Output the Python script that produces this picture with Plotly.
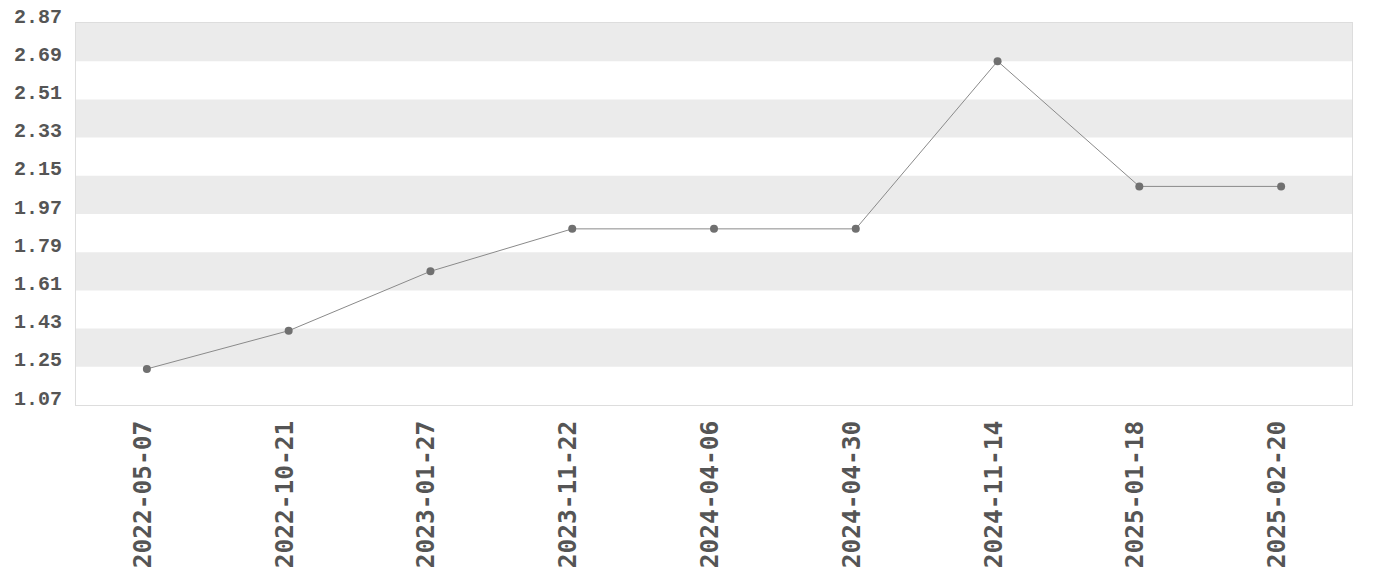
import plotly.graph_objects as go

dates = ["2022-05-07", "2022-10-21", "2023-01-27", "2023-11-22", "2024-04-06",
         "2024-04-30", "2024-11-14", "2025-01-18", "2025-02-20"]
values = [1.24, 1.42, 1.70, 1.90, 1.90, 1.90, 2.69, 2.10, 2.10]
ytick_vals = [1.07, 1.25, 1.43, 1.61, 1.79, 1.97, 2.15, 2.33, 2.51, 2.69, 2.87]
ytick_text = ["1.07", "1.25", "1.43", "1.61", "1.79", "1.97", "2.15", "2.33", "2.51", "2.69", "2.87"]

fig = go.Figure()
fig.add_trace(go.Scatter(
    x=dates, y=values, mode="lines+markers",
    line=dict(color="#8a8a8a", width=1),
    marker=dict(color="#707070", size=8),
    showlegend=False,
))

shapes = []
for i in range(len(ytick_vals) - 1, 0, -2):
    shapes.append(dict(type="rect", xref="paper", yref="y", x0=0, x1=1,
                       y0=ytick_vals[i - 1], y1=ytick_vals[i],
                       fillcolor="#ebebeb", line=dict(width=0), layer="below"))

annotations = [
    dict(xref="paper", yref="y", x=0, y=v, text=t, showarrow=False,
         xanchor="right", yanchor="middle", xshift=-12, yshift=6,
         font=dict(family="Liberation Mono", size=20, color="#555555", weight="bold"))
    for v, t in zip(ytick_vals, ytick_text)
]

fig.update_layout(
    width=1380, height=580,
    margin=dict(l=68, r=36, t=15, b=183),
    paper_bgcolor="white", plot_bgcolor="white",
    shapes=shapes,
    annotations=annotations,
    xaxis=dict(type="category", range=[-0.5, len(dates) - 0.5], automargin=False,
               showgrid=False, zeroline=False, showline=True, mirror=True,
               linecolor="#dddddd", linewidth=1, tickangle=-90, ticks="",
               ticklabelstandoff=5, ticklabelshift=-4,
               tickfont=dict(family="DejaVu Sans Mono", size=24.5, color="#555555", weight="bold")),
    yaxis=dict(range=[ytick_vals[0], ytick_vals[-1]], tickvals=ytick_vals,
               showticklabels=False, automargin=False,
               showgrid=False, zeroline=False, showline=True, mirror=True,
               linecolor="#dddddd", linewidth=1, ticks=""),
)

fig.write_html("out.html")
